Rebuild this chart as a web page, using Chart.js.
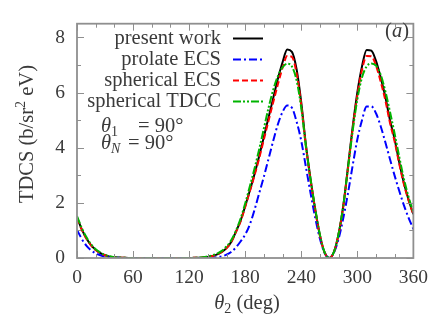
<!DOCTYPE html>
<html>
<head>
<meta charset="utf-8">
<script src="https://cdn.jsdelivr.net/npm/chart.js@4.4.1/dist/chart.umd.min.js"></script>
<style>
  body { margin: 0; background: #fff; }
  canvas { display: block; }
</style>
</head>
<body>
<canvas id="chart" width="436" height="319"></canvas>
<script>
// Données (pas de 5 degrés)
const angles = [0, 5, 10, 15, 20, 25, 30, 35, 40, 45, 50, 55, 60, 65, 70, 75, 80, 85, 90, 95,
  100, 105, 110, 115, 120, 125, 130, 135, 140, 145, 150, 155, 160, 165, 170, 175, 180, 185, 190, 195,
  200, 205, 210, 215, 220, 225, 230, 235, 240, 245, 250, 255, 260, 265, 270, 275, 280, 285, 290, 295,
  300, 305, 310, 315, 320, 325, 330, 335, 340, 345, 350, 355, 360];

const presentWork = [1.47, 1.05, 0.72, 0.47, 0.30, 0.18, 0.10, 0.05, 0.03, 0.015, 0.01, 0, 0, 0, 0, 0, 0, 0, 0, 0,
  0, 0, 0, 0, 0, 0.005, 0.01, 0.02, 0.04, 0.07, 0.13, 0.22, 0.36, 0.58, 0.95, 1.35, 1.88, 2.45, 3.05, 3.7,
  4.4, 5.1, 5.8, 6.5, 7.1, 7.56, 7.48, 6.85, 5.65, 4.1, 2.85, 1.75, 0.82, 0.2, 0, 0.22, 0.88, 1.9, 3.3, 4.75,
  6.0, 6.95, 7.55, 7.52, 7.15, 6.55, 5.85, 5.0, 4.3, 3.45, 2.7, 2.1, 1.59];

const prolateECS = [1.02, 0.7, 0.45, 0.28, 0.17, 0.1, 0.05, 0.025, 0.01, 0.005, 0, 0, 0, 0, 0, 0, 0, 0, 0, 0,
  0, 0, 0, 0, 0, 0, 0, 0, 0.005, 0.01, 0.03, 0.06, 0.12, 0.22, 0.38, 0.6, 0.85, 1.22, 1.75, 2.35,
  2.95, 3.6, 4.25, 4.85, 5.3, 5.53, 5.45, 4.95, 4.25, 3.3, 2.35, 1.45, 0.7, 0.18, 0, 0.2, 0.7, 1.45, 2.35, 3.35,
  4.3, 5.0, 5.5, 5.5, 5.25, 4.78, 4.2, 3.58, 2.98, 2.42, 1.9, 1.45, 1.05];

const sphericalECS = [1.45, 1.04, 0.71, 0.46, 0.29, 0.17, 0.10, 0.05, 0.03, 0.015, 0.01, 0, 0, 0, 0, 0, 0, 0, 0, 0,
  0, 0, 0, 0, 0, 0.005, 0.01, 0.02, 0.04, 0.07, 0.13, 0.22, 0.36, 0.57, 0.93, 1.32, 1.85, 2.42, 3.0, 3.62,
  4.3, 4.98, 5.65, 6.3, 6.9, 7.33, 7.3, 6.7, 5.55, 4.05, 2.82, 1.73, 0.81, 0.2, 0, 0.22, 0.87, 1.88, 3.25, 4.68,
  5.9, 6.82, 7.33, 7.32, 6.98, 6.4, 5.72, 4.9, 4.22, 3.4, 2.66, 2.07, 1.57];

const sphericalTDCC = [1.52, 1.1, 0.76, 0.5, 0.32, 0.2, 0.11, 0.06, 0.03, 0.015, 0.01, 0, 0, 0, 0, 0, 0, 0, 0, 0,
  0, 0, 0, 0, 0, 0.008, 0.015, 0.03, 0.06, 0.1, 0.16, 0.26, 0.42, 0.64, 0.98, 1.42, 1.98, 2.6, 3.25, 3.95,
  4.7, 5.45, 6.1, 6.6, 6.92, 7.05, 6.95, 6.45, 5.45, 4.05, 2.85, 1.78, 0.84, 0.2, 0, 0.22, 0.88, 1.9, 3.25, 4.6,
  5.75, 6.55, 6.95, 7.06, 6.98, 6.65, 6.05, 5.3, 4.5, 3.65, 2.85, 2.2, 1.65];

const xTicks = [0, 60, 120, 180, 240, 300, 360];
const yTicks = [0, 2, 4, 6, 8];

const serif = '"Liberation Serif", "DejaVu Serif", serif';
const textColor = '#3a3a3a';
const frameColor = '#8f8f8f';

const series = [
  { label: 'present work', values: presentWork, color: '#000000', dash: [], order: 3 },
  { label: 'prolate ECS', values: prolateECS, color: '#0000ff', dash: [8, 3, 2, 3], order: 2 },
  { label: 'spherical ECS', values: sphericalECS, color: '#ff0000', dash: [6, 3], order: 1 },
  { label: 'spherical TDCC', values: sphericalTDCC, color: '#00b400', dash: [8, 2, 2, 2, 2, 2], order: 0 }
];

// Texte composé (italique, indices, exposants)
const richWidth = (ctx, parts) => parts.reduce((w, p) => {
  ctx.font = p.font;
  return w + ctx.measureText(p.t).width;
}, 0);

const drawRich = (ctx, parts, x, y) => {
  let cx = x;
  parts.forEach((p) => {
    ctx.font = p.font;
    ctx.fillText(p.t, cx, y + (p.dy || 0));
    cx += ctx.measureText(p.t).width;
  });
};

const decor = {
  id: 'decor',
  afterDatasetsDraw(chart) {
    const { ctx, chartArea: a, scales: { x, y } } = chart;
    ctx.save();

    // graduations vers l'intérieur
    ctx.strokeStyle = frameColor;
    ctx.lineWidth = 1;
    ctx.beginPath();
    for (let v = 0; v <= 360; v += 20) {
      const px = Math.round(x.getPixelForValue(v)) + 0.5;
      const len = v % 60 === 0 ? 7 : 4;
      ctx.moveTo(px, a.bottom); ctx.lineTo(px, a.bottom - len);
      ctx.moveTo(px, a.top); ctx.lineTo(px, a.top + len);
    }
    for (let v = 0; v <= 8; v += 1) {
      const py = Math.round(y.getPixelForValue(v)) + 0.5;
      const len = v % 2 === 0 ? 7 : 4;
      ctx.moveTo(a.left, py); ctx.lineTo(a.left + len, py);
      ctx.moveTo(a.right, py); ctx.lineTo(a.right - len, py);
    }
    ctx.stroke();

    ctx.lineWidth = 1.8;
    ctx.strokeRect(a.left, a.top, a.right - a.left, a.bottom - a.top);

    // légende
    const legendY = [38.5, 59.5, 80.5, 101.5];
    ctx.textBaseline = 'middle';
    series.forEach((s, i) => {
      ctx.font = `20.5px ${serif}`;
      ctx.textAlign = 'right';
      ctx.fillStyle = textColor;
      ctx.fillText(s.label, 221, legendY[i]);
      ctx.strokeStyle = s.color;
      ctx.lineWidth = 2;
      ctx.setLineDash(s.dash);
      ctx.beginPath();
      ctx.moveTo(233, legendY[i]);
      ctx.lineTo(263, legendY[i]);
      ctx.stroke();
    });
    ctx.setLineDash([]);

    const it = `italic 20.5px ${serif}`;
    const rm = `20.5px ${serif}`;
    const sm = `14px ${serif}`;
    const smIt = `italic 14px ${serif}`;
    ctx.textAlign = 'left';
    ctx.fillStyle = textColor;

    // angles fixés
    drawRich(ctx, [{ t: 'θ', font: it }, { t: '1', font: sm, dy: 5 }], 101, 127);
    drawRich(ctx, [{ t: '= 90°', font: rm }], 138, 127);
    drawRich(ctx, [{ t: 'θ', font: it }, { t: 'N', font: smIt, dy: 5 }], 101, 144);
    drawRich(ctx, [{ t: '= 90°', font: rm }], 128, 144);

    // (a)
    const label = [{ t: '(', font: rm }, { t: 'a', font: it }, { t: ')', font: rm }];
    drawRich(ctx, label, 409 - richWidth(ctx, label), 32);

    // titre de l'axe x
    const xt = [{ t: 'θ', font: it }, { t: '2', font: sm, dy: 5 }, { t: ' (deg)', font: rm }];
    drawRich(ctx, xt, 247 - richWidth(ctx, xt) / 2, 304);

    // titre de l'axe y
    const yt = [{ t: 'TDCS (b/sr', font: rm }, { t: '2', font: sm, dy: -7 }, { t: ' eV)', font: rm }];
    ctx.translate(28, 134);
    ctx.rotate(-Math.PI / 2);
    drawRich(ctx, yt, -richWidth(ctx, yt) / 2, 0);

    ctx.restore();
  }
};

new Chart(document.querySelector('#chart'), {
  type: 'line',
  data: {
    datasets: series.map((s) => ({
      label: s.label,
      data: angles.map((a, i) => ({ x: a, y: s.values[i] })),
      borderColor: s.color,
      borderDash: s.dash,
      borderWidth: 2,
      pointRadius: 0,
      cubicInterpolationMode: 'monotone',
      fill: false,
      order: s.order
    }))
  },
  options: {
    responsive: false,
    animation: false,
    devicePixelRatio: 1,
    layout: { padding: { top: 11, right: 19, left: 0, bottom: 0 } },
    plugins: { legend: { display: false }, tooltip: { enabled: false } },
    scales: {
      x: {
        type: 'linear',
        min: 0,
        max: 360,
        afterBuildTicks: (s) => { s.ticks = xTicks.map((v) => ({ value: v })); },
        afterFit: (s) => { s.height = 61; },
        grid: { display: false, drawTicks: false },
        border: { display: false },
        ticks: { padding: 8, color: textColor, font: { family: serif, size: 19.5 }, maxRotation: 0 }
      },
      y: {
        min: 0,
        max: 8.5,
        afterBuildTicks: (s) => { s.ticks = yTicks.map((v) => ({ value: v })); },
        afterFit: (s) => { s.width = 77; },
        grid: { display: false, drawTicks: false },
        border: { display: false },
        ticks: { padding: 12, color: textColor, font: { family: serif, size: 19.5 } }
      }
    }
  },
  plugins: [decor]
});
</script>
</body>
</html>
